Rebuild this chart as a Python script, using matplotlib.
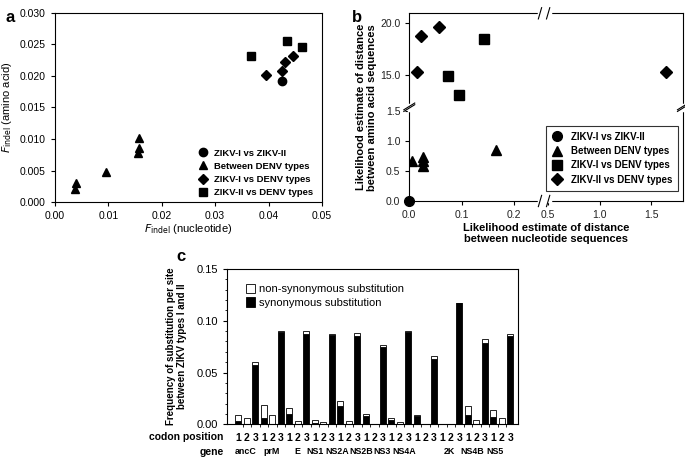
#!/usr/bin/env python3
"""ZIKV / DENV indel and distance comparison, three panel figure -> out.png"""

import numpy as np
import matplotlib
matplotlib.use("Agg")
import matplotlib.pyplot as plt
from matplotlib.patches import Patch

plt.rcParams.update({
    "font.family": ["Liberation Sans", "DejaVu Sans"],
    "font.size": 7.5,
    "axes.linewidth": 0.8,
    "xtick.major.width": 0.8,
    "ytick.major.width": 0.8,
    "xtick.major.size": 3,
    "ytick.major.size": 3,
})

# ---- panel a: F_indel (nucleotide) vs F_indel (amino acid)
A_ZZ_X = [0.0425]
A_ZZ_Y = [0.0192]
A_DENV_X = [0.0040, 0.0038, 0.0095, 0.0158, 0.0158, 0.0155]
A_DENV_Y = [0.0030, 0.0021, 0.0047, 0.0102, 0.0085, 0.0077]
A_Z1D_X = [0.0395, 0.0425, 0.0430, 0.0445]
A_Z1D_Y = [0.0202, 0.0208, 0.0223, 0.0232]
A_Z2D_X = [0.0368, 0.0435, 0.0462]
A_Z2D_Y = [0.0232, 0.0256, 0.0246]
A_XTICKS = [0.00, 0.01, 0.02, 0.03, 0.04, 0.05]
A_YTICKS = [0.000, 0.005, 0.010, 0.015, 0.020, 0.025, 0.030]

# ---- panel b: likelihood distances (broken axes)
B_ZZ_X = [0.0]
B_ZZ_Y = [0.0]
B_DENV_X = [0.006, 0.027, 0.026, 0.026, 0.166]
B_DENV_Y = [0.67, 0.74, 0.66, 0.59, 0.85]
B_Z1D_X = [0.0745, 0.095, 0.143]
B_Z1D_Y = [14.95, 13.06, 18.45]
B_Z2D_X = [0.014, 0.022, 0.057, 1.645]
B_Z2D_Y = [15.25, 18.75, 19.6, 15.25]
B_XTICKS = [0.0, 0.1, 0.2, 0.5, 1.0, 1.5]
B_YTICKS = [0.0, 0.5, 1.0, 1.5, 15.0, 20.0]

# ---- panel c: substitution frequency per codon position
GENES = ["ancC", "prM", "E", "NS1", "NS2A", "NS2B", "NS3", "NS4A", "2K", "NS4B", "NS5"]
CODON = ["1", "2", "3"]
SYN = [0.0030, 0.0, 0.0574, 0.0060, 0.0, 0.0893, 0.0100, 0.0, 0.0877,
       0.0010, 0.0, 0.0865, 0.0174, 0.0, 0.0855, 0.0080, 0.0, 0.0750,
       0.0040, 0.0, 0.0890, 0.0085, 0.0, 0.0635, 0.0, 0.0, 0.1170,
       0.0094, 0.0, 0.0790, 0.0071, 0.0, 0.0850]
NONSYN = [0.0057, 0.0058, 0.0032, 0.0124, 0.0087, 0.0007, 0.0058, 0.0030, 0.0020,
          0.0035, 0.0023, 0.0008, 0.0052, 0.0030, 0.0025, 0.0023, 0.0, 0.0020,
          0.0025, 0.0022, 0.0012, 0.0003, 0.0, 0.0025, 0.0, 0.0, 0.0003,
          0.0083, 0.0045, 0.0030, 0.0068, 0.0060, 0.0020]
C_YTICKS = [0.00, 0.05, 0.10, 0.15]
# where the gene names sit (in bar index units), as in the original
GENE_LABEL_X = [0.9, 3.95, 7.0, 9.0, 11.6, 14.4, 16.9, 19.5, 24.8, 27.5, 30.2]

LEG_A = ["ZIKV-I vs ZIKV-II", "Between DENV types", "ZIKV-I vs DENV types", "ZIKV-II vs DENV types"]
LEG_B = ["ZIKV-I vs ZIKV-II", "Between DENV types", "ZIKV-I vs DENV types", "ZIKV-II vs DENV types"]

# piecewise linear scales for the broken axes of panel b
BX_DATA = [-10.0, 0.0, 0.25, 0.5, 10.0]
BX_PIX = [-15700.0, 0.0, 392.5, 417.0, 417.0 + 310.0 * 9.5]
BY_DATA = [-10.0, 0.0, 1.55, 12.0, 40.0]
BY_PIX = [-1800.0, 0.0, 279.0, 284.0, 284.0 + 31.4 * 28.0]


def fwd_x(v):
    return np.interp(v, BX_DATA, BX_PIX)


def inv_x(p):
    return np.interp(p, BX_PIX, BX_DATA)


def fwd_y(v):
    return np.interp(v, BY_DATA, BY_PIX)


def inv_y(p):
    return np.interp(p, BY_PIX, BY_DATA)


fig = plt.figure(figsize=(6.85, 4.59), dpi=100)

# ------------------------------------------------------------------ a
ax = fig.add_axes([0.0803, 0.5599, 0.3897, 0.4118])
mk = dict(ls="none", color="black")
ax.plot(A_ZZ_X, A_ZZ_Y, marker="o", ms=6, label=LEG_A[0], **mk)
ax.plot(A_DENV_X, A_DENV_Y, marker="^", ms=6, label=LEG_A[1], **mk)
ax.plot(A_Z1D_X, A_Z1D_Y, marker="D", ms=5, label=LEG_A[2], **mk)
ax.plot(A_Z2D_X, A_Z2D_Y, marker="s", ms=6, label=LEG_A[3], **mk)
ax.set_xlim(0, 0.05)
ax.set_ylim(0, 0.030)
ax.set_xticks(A_XTICKS)
ax.set_xticklabels([f"{v:.2f}" for v in A_XTICKS])
ax.set_yticks(A_YTICKS)
ax.set_yticklabels([f"{v:.3f}" for v in A_YTICKS])
ax.tick_params(direction="out", length=3, labelsize=7.5)
ax.set_xlabel(r"$\mathit{F}_{\mathrm{indel}}$ (nucleotide)", fontsize=8, labelpad=1)
ax.set_ylabel(r"$\mathit{F}_{\mathrm{indel}}$ (amino acid)", fontsize=8, labelpad=4)
ax.legend(loc="lower right", bbox_to_anchor=(1.0, -0.02), frameon=False,
          prop=dict(weight="bold", size=6.8), handletextpad=0.6, labelspacing=0.45,
          handlelength=1.2)
fig.text(0.008, 0.978, "a", fontsize=12, fontweight="bold", va="top")

# ------------------------------------------------------------------ b
bx = fig.add_axes([0.5975, 0.5621, 0.3995, 0.4089])
bx.set_xscale("function", functions=(fwd_x, inv_x))
bx.set_yscale("function", functions=(fwd_y, inv_y))
bx.plot(B_ZZ_X, B_ZZ_Y, marker="o", ms=7, label=LEG_B[0], clip_on=False, zorder=5, **mk)
bx.plot(B_DENV_X, B_DENV_Y, marker="^", ms=6.5, label=LEG_B[1], **mk)
bx.plot(B_Z1D_X, B_Z1D_Y, marker="s", ms=6.5, label=LEG_B[2], **mk)
bx.plot(B_Z2D_X, B_Z2D_Y, marker="D", ms=6, label=LEG_B[3], **mk)
bx.set_xlim(0, 1.806)
bx.set_ylim(0, 20.9)
bx.set_xticks(B_XTICKS)
bx.set_xticklabels([f"{v:.1f}" for v in B_XTICKS])
bx.set_yticks(B_YTICKS)
bx.set_yticklabels([f"{v:.1f}" for v in B_YTICKS])
bx.minorticks_off()
bx.tick_params(direction="out", length=3, labelsize=7.5, labelcolor="#222222")
bx.set_xlabel("Likelihood estimate of distance\nbetween nucleotide sequences",
              fontsize=8, fontweight="bold", labelpad=2, linespacing=1.1)
bx.set_ylabel("Likelihood estimate of distance\nbetween amino acid sequences",
              fontsize=8, fontweight="bold", labelpad=2, linespacing=1.1)
leg = bx.legend(loc="lower right", bbox_to_anchor=(1.0, 0.03), frameon=True, fancybox=False,
                prop=dict(weight="bold", size=7), handletextpad=0.8, labelspacing=0.45,
                handlelength=1.2, borderpad=0.6)
leg.get_frame().set_edgecolor("black")
leg.get_frame().set_linewidth(0.8)

# break marks on the spines of panel b
x_span = fwd_x(1.806) - fwd_x(0.0)
xb0 = (fwd_x(0.25) - fwd_x(0.0)) / x_span
xb1 = (fwd_x(0.5) - fwd_x(0.0)) / x_span
y_span = fwd_y(20.9) - fwd_y(0.0)
yb0 = (fwd_y(1.55) - fwd_y(0.0)) / y_span
yb1 = (fwd_y(12.0) - fwd_y(0.0)) / y_span
kw = dict(transform=bx.transAxes, clip_on=False, color="black", lw=0.8, zorder=10)
dx, dy = 0.012, 0.03
for yy in (0.0, 1.0):
    bx.plot([xb0 - 0.005, xb1 + 0.005], [yy, yy], color="white", lw=2.5,
            transform=bx.transAxes, clip_on=False, zorder=9)
    for xx in (xb0, xb1):
        bx.plot([xx - dx / 2, xx + dx / 2], [yy - dy, yy + dy], **kw)
ddx, ddy = 0.02, 0.018
for xx in (0.0, 1.0):
    bx.plot([xx, xx], [yb0 - 0.01, yb1 + 0.01], color="white", lw=2.5,
            transform=bx.transAxes, clip_on=False, zorder=9)
    for yy in (yb0, yb1):
        bx.plot([xx - ddx, xx + ddx], [yy - ddy, yy + ddy], **kw)
fig.text(0.514, 0.978, "b", fontsize=12, fontweight="bold", va="top")

# ------------------------------------------------------------------ c
cx = fig.add_axes([0.3318, 0.0756, 0.4245, 0.3383])
idx = np.arange(len(SYN))
cx.bar(idx, SYN, width=0.7, color="black", edgecolor="black", linewidth=0.6)
cx.bar(idx, NONSYN, width=0.7, bottom=SYN, color="white", edgecolor="black", linewidth=0.6)
cx.set_xlim(-1.3, 32.9)
cx.set_ylim(0, 0.15)
cx.set_yticks(C_YTICKS)
cx.set_yticklabels([f"{v:.2f}" for v in C_YTICKS])
cx.set_yticks(np.arange(0, 0.151, 0.01), minor=True)
cx.set_xticks(idx)
cx.set_xticklabels(CODON * len(GENES), fontsize=7.5, fontweight="bold")
cx.set_xticks(idx[:-1] + 0.5, minor=True)
cx.tick_params(axis="x", which="major", length=0, pad=6)
cx.tick_params(axis="x", which="minor", length=2, direction="out")
cx.tick_params(axis="y", which="major", length=3, direction="out", labelsize=8)
cx.tick_params(axis="y", which="minor", length=1.5, direction="out")
cx.set_ylabel("Frequency of substitution per site\nbetween ZIKV types I and II",
              fontsize=7, fontweight="bold", labelpad=7, linespacing=1.1)
xtr = cx.get_xaxis_transform()
for name, gx in zip(GENES, GENE_LABEL_X):
    cx.text(gx, -0.176, name, transform=xtr, ha="center", va="center",
            fontsize=6.4, fontweight="bold")
cx.text(-1.75, -0.08, "codon position", transform=xtr,
        ha="right", va="center", fontsize=7.5, fontweight="bold")
cx.text(-1.65, -0.176, "gene", transform=xtr,
        ha="right", va="center", fontsize=7.5, fontweight="bold")
cx.legend(handles=[Patch(facecolor="white", edgecolor="black", lw=0.6),
                   Patch(facecolor="black", edgecolor="black", lw=0.6)],
          labels=["non-synonymous substitution", "synonymous substitution"],
          loc="upper left", bbox_to_anchor=(0.03, 0.97), frameon=False, fontsize=8,
          handlelength=0.8, handleheight=0.9, handletextpad=0.4, labelspacing=0.3)
fig.text(0.258, 0.458, "c", fontsize=12, fontweight="bold", va="top")

fig.savefig("out.png", dpi=100)
plt.close(fig)
